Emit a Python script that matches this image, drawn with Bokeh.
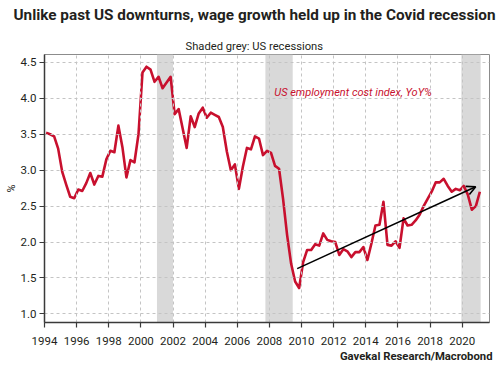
import numpy as np
from bokeh.plotting import figure
from bokeh.models import (BoxAnnotation, Label, Title, Arrow, OpenHead, FixedTicker,
                          PrintfTickFormatter, Range1d, ColumnDataSource)
from bokeh.embed import file_html
from bokeh.resources import INLINE

# ---- data ----
first_year = 1994
eci_yoy = [
    3.52, 3.50, 3.47, 3.30,   # 1994
    2.98, 2.80, 2.63, 2.61,   # 1995
    2.73, 2.71, 2.82, 2.96,   # 1996
    2.80, 2.92, 2.91, 3.15,   # 1997
    3.27, 3.25, 3.62, 3.32,   # 1998
    2.90, 3.14, 3.11, 3.50,   # 1999
    4.36, 4.44, 4.40, 4.23,   # 2000
    4.30, 4.14, 4.22, 4.30,   # 2001
    3.78, 3.85, 3.58, 3.31,   # 2002
    3.75, 3.60, 3.79, 3.87,   # 2003
    3.73, 3.80, 3.77, 3.74,   # 2004
    3.60, 3.26, 3.00, 3.08,   # 2005
    2.74, 3.05, 3.31, 3.29,   # 2006
    3.47, 3.44, 3.21, 3.27,   # 2007
    3.24, 3.06, 3.02, 2.60,   # 2008
    2.10, 1.70, 1.45, 1.36,   # 2009
    1.72, 1.89, 1.89, 1.97,   # 2010
    1.95, 2.12, 2.03, 2.01,   # 2011
    2.00, 1.82, 1.90, 1.87,   # 2012
    1.79, 1.86, 1.86, 1.93,   # 2013
    1.75, 1.98, 2.23, 2.24,   # 2014
    2.56, 1.96, 1.95, 2.01,   # 2015
    1.92, 2.33, 2.23, 2.24,   # 2016
    2.30, 2.38, 2.50, 2.60,   # 2017
    2.70, 2.83, 2.83, 2.88,   # 2018
    2.78, 2.70, 2.74, 2.72,   # 2019
    2.78, 2.66, 2.45, 2.50,   # 2020
    2.70,                     # 2021
]
quarter_dates = [first_year + 0.1 + 0.25 * i for i in range(len(eci_yoy))]

recession_start = [2001.0, 2007.75, 2019.95]
recession_end = [2002.0, 2009.45, 2021.15]

x_tick_years = [1994, 1996, 1998, 2000, 2002, 2004, 2006, 2008, 2010, 2012, 2014, 2016, 2018, 2020]
y_tick_values = [1.0, 1.5, 2.0, 2.5, 3.0, 3.5, 4.0, 4.5]

trend_start = (2009.73, 1.63)
trend_end = (2020.84, 2.77)

title_text = "Unlike past US downturns, wage growth held up in the Covid recession"
subtitle_text = "Shaded grey: US recessions"
series_label = "US employment cost index, YoY%"
source_text = "Gavekal Research/Macrobond"
y_label_text = "%"

# ---- styling ----
FONT = "Roboto"
RED = "#c8102e"
DARK = "#231f20"

p = figure(width=500, height=368, x_range=Range1d(1994, 2021.7), y_range=Range1d(0.88, 4.61),
           output_backend="svg", toolbar_location=None,
           min_border_left=44, min_border_right=11, min_border_top=54, min_border_bottom=46,
           background_fill_color="white", border_fill_color="white")

# titles: p.title is outermost; added panels stack outward from the frame in order
p.title.text = title_text
p.title.text_font = FONT
p.title.text_font_size = "15.3px"
p.title.text_font_style = "bold"
p.title.text_color = DARK
p.title.align = "left"
p.title.offset = -31
p.title.standoff = 0

subtitle = Title(text=subtitle_text, text_font=FONT, text_font_size="11.2px", text_font_style="normal",
                 text_color=DARK, align="left", offset=141, standoff=3)
p.add_layout(subtitle, "above")
spacer = Title(text=" ", text_font=FONT, text_font_size="10px", standoff=0)
p.add_layout(spacer, "above")

source = Title(text=source_text, text_font=FONT, text_font_size="11.3px", text_font_style="bold",
               text_color=DARK, align="right", offset=-3, standoff=0)
p.add_layout(source, "below")

# recession shading
for s, e in zip(recession_start, recession_end):
    p.add_layout(BoxAnnotation(left=s, right=e, fill_color="#d9d9d9", fill_alpha=1.0,
                               line_color=None, level="underlay"))

# grid
for g in (p.xgrid[0], p.ygrid[0]):
    g.grid_line_color = "#c4c4c4"
    g.grid_line_dash = "3 3"
    g.grid_line_width = 1
    g.level = "glyph"
p.xgrid[0].ticker = FixedTicker(ticks=x_tick_years)
p.ygrid[0].ticker = FixedTicker(ticks=y_tick_values)

# axes
p.xaxis.ticker = FixedTicker(ticks=x_tick_years)
p.yaxis.ticker = FixedTicker(ticks=y_tick_values)
p.yaxis.formatter = PrintfTickFormatter(format="%.1f")
for ax in (p.xaxis[0], p.yaxis[0]):
    ax.axis_line_color = "#3a3a3a"
    ax.axis_line_width = 1.5
    ax.major_tick_line_color = "#3a3a3a"
    ax.major_tick_line_width = 1.2
    ax.major_tick_out = 5
    ax.major_tick_in = 0
    ax.minor_tick_line_color = None
    ax.major_label_text_font = FONT
    ax.major_label_text_font_size = "11.5px"
    ax.major_label_text_color = DARK
p.yaxis.major_label_standoff = 3
p.xaxis.major_label_standoff = 9
p.yaxis.axis_label = y_label_text
p.yaxis.axis_label_text_font = FONT
p.yaxis.axis_label_text_font_size = "11px"
p.yaxis.axis_label_text_font_style = "normal"
p.yaxis.axis_label_text_color = DARK
p.yaxis.axis_label_standoff = 0

p.outline_line_color = "#8c8c8c"
p.outline_line_width = 1

# series
src = ColumnDataSource(data=dict(x=quarter_dates, y=eci_yoy))
p.line("x", "y", source=src, line_color=RED, line_width=2.6, line_join="round")

# trend arrow
p.add_layout(Arrow(x_start=trend_start[0], y_start=trend_start[1], x_end=trend_end[0], y_end=trend_end[1],
                   line_color="black", line_width=1.6,
                   end=OpenHead(size=9, line_color="black", line_width=1.6)))

# series annotation
p.add_layout(Label(x=2008.3, y=4.085, text=series_label, text_font=FONT, text_font_size="11px",
                   text_font_style="italic", text_color=RED, text_baseline="middle"))

open("out.html", "w").write(file_html(p, INLINE))
